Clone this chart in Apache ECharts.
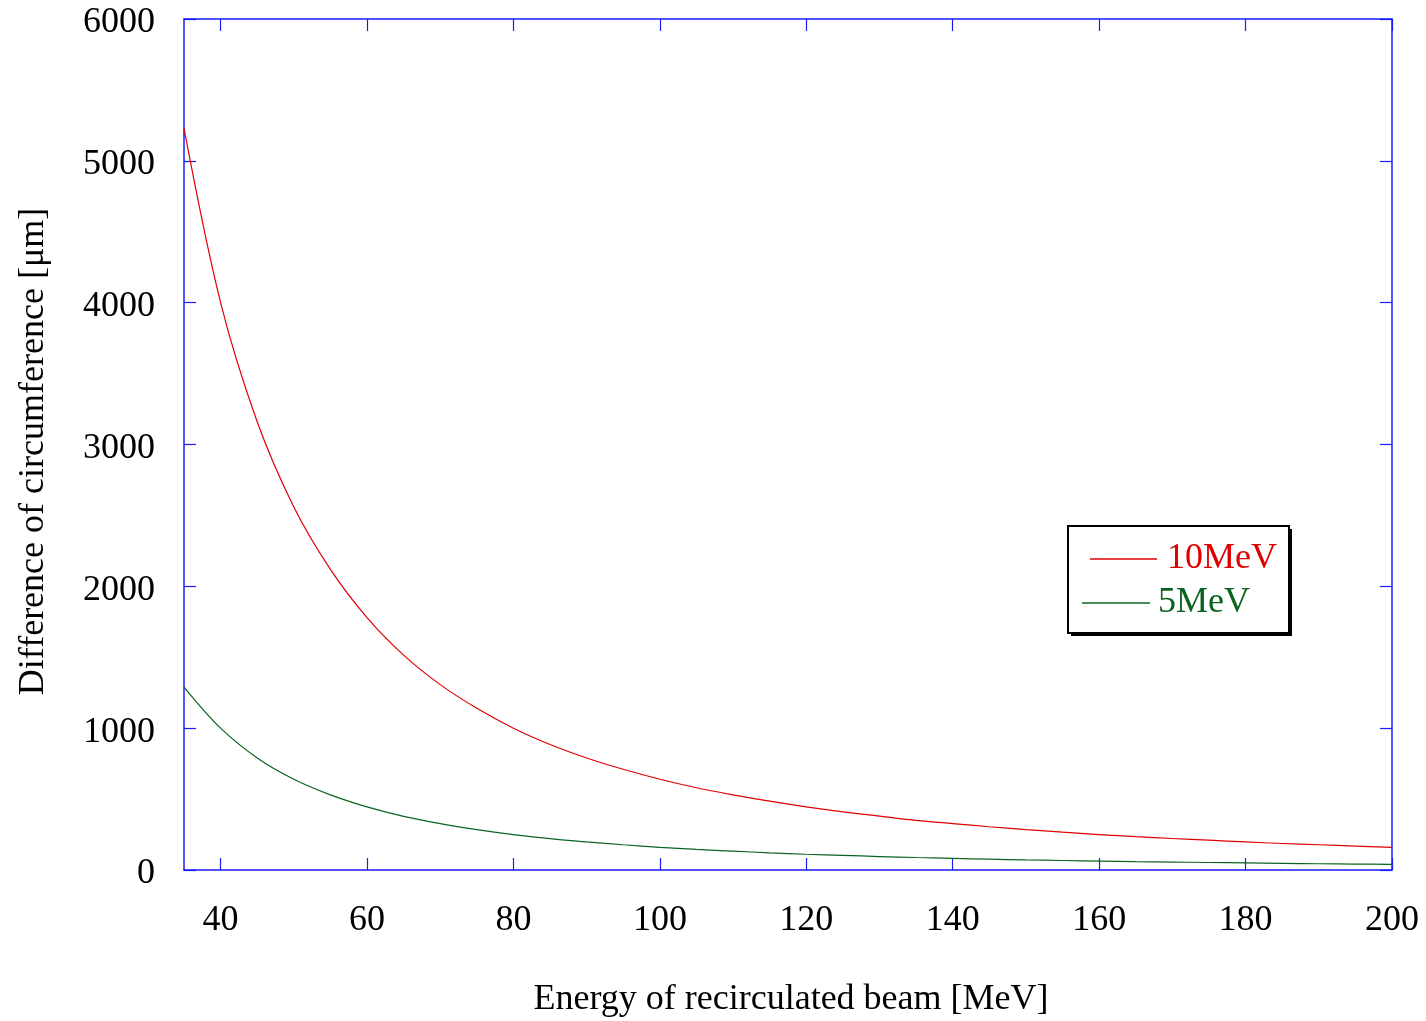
<!DOCTYPE html>
<html>
<head>
<meta charset="utf-8">
<script src="https://cdn.jsdelivr.net/npm/echarts@6/dist/echarts.min.js"></script>
<style>
html,body{margin:0;padding:0;background:#fff;}
#chart{width:1426px;height:1021px;}
</style>
</head>
<body>
<div id="chart"></div>
<script>
// Data
const energy = [35,40,45,50,55,60,65,70,75,80,85,90,95,100,105,110,115,120,125,130,135,140,145,150,155,160,165,170,175,180,185,190,195,200];
const diff10MeV = [5230,4000,3160,2560,2120,1780,1515,1307,1140,1000,885,790,710,640,580,530,485,445,410,380,350,327,305,285,267,250,235,222,210,198,187,178,169,160];
const diff5MeV = [1290,1000,790,640,530,445,378,327,285,250,221,198,178,160,145,133,121,111,103,95,88,82,76,71,67,63,59,56,53,50,47,44,42,40];
const xTicks = [40,60,80,100,120,140,160,180,200];
const yTicks = [0,1000,2000,3000,4000,5000,6000];
const seriesNames = ['10MeV','5MeV'];
const xTitle = 'Energy of recirculated beam [MeV]';
const yTitle = 'Difference of circumference [\u03bcm]';

const FONT = '"Liberation Serif","DejaVu Serif",serif';
const BLUE = '#1a1aff';
const RED = '#e00000';
const GREEN = '#0a6420';
const FS = 36;

const chart = echarts.init(document.getElementById('chart'), null, {renderer:'canvas'});

const xBase = {
  type:'value', min:35, max:200,
  axisLine:{show:true, onZero:false, lineStyle:{color:BLUE, width:1.5}},
  axisTick:{show:true, inside:true, length:12, customValues:xTicks, lineStyle:{color:BLUE, width:1.2}},
  splitLine:{show:false}
};
const yBase = {
  type:'value', min:0, max:6000, interval:1000,
  axisLine:{show:true, onZero:false, lineStyle:{color:BLUE, width:1.5}},
  axisTick:{show:true, inside:true, length:12, lineStyle:{color:BLUE, width:1.2}},
  splitLine:{show:false}
};

function pairs(ys){ return energy.map((x,i)=>[x, ys[i]]); }

chart.setOption({
  animation:false,
  backgroundColor:'#fff',
  grid:{left:184, right:34, top:19, bottom:151, containLabel:false, outerBoundsMode:'none'},
  xAxis:[
    Object.assign({}, xBase, {
      position:'bottom',
      name:xTitle, nameLocation:'middle', nameGap:112,
      nameTextStyle:{fontFamily:FONT, fontSize:FS, color:'#000', padding:[0,0,0,6]},
      axisLabel:{show:true, customValues:xTicks, margin:33, fontFamily:FONT, fontSize:FS, color:'#000',
        formatter:(v)=>String(v)}
    }),
    Object.assign({}, xBase, {position:'top', axisLabel:{show:false}})
  ],
  yAxis:[
    Object.assign({}, yBase, {
      position:'left',
      name:yTitle, nameLocation:'middle', nameGap:132, nameRotate:90,
      nameTextStyle:{fontFamily:FONT, fontSize:FS, color:'#000', padding:[0,14,0,0]},
      axisLabel:{show:true, margin:29, fontFamily:FONT, fontSize:FS, color:'#000',
        customValues:yTicks, formatter:(v)=>String(v), verticalAlign:'top', lineHeight:8}
    }),
    Object.assign({}, yBase, {position:'right', axisLabel:{show:false}})
  ],
  graphic:[
    {type:'rect', left:1071, top:529, z:100, shape:{width:221, height:107}, style:{fill:'#000'}},
    {type:'rect', left:1067, top:525, z:101, shape:{width:221, height:107}, style:{fill:'#fff', stroke:'#000', lineWidth:2}}
  ],
  legend:[
    {data:[{name:seriesNames[0], icon:'rect', textStyle:{color:RED}}], left:1090, top:541, padding:0, z:110,
     itemWidth:67, itemHeight:1.3, itemGap:0,
     textStyle:{fontFamily:FONT, fontSize:FS, padding:[0,0,0,5]}},
    {data:[{name:seriesNames[1], icon:'rect', textStyle:{color:GREEN}}], left:1082, top:585, padding:0, z:110,
     itemWidth:68, itemHeight:1.3, itemGap:0,
     textStyle:{fontFamily:FONT, fontSize:FS, padding:[0,0,0,3]}}
  ],
  series:[
    {name:seriesNames[0], type:'line', data:pairs(diff10MeV), smooth:0.35, symbol:'none',
     lineStyle:{color:RED, width:1.2}, itemStyle:{color:RED}, clip:true},
    {name:seriesNames[1], type:'line', data:pairs(diff5MeV), smooth:0.35, symbol:'none',
     lineStyle:{color:GREEN, width:1.2}, itemStyle:{color:GREEN}, clip:true}
  ]
});
</script>
</body>
</html>
